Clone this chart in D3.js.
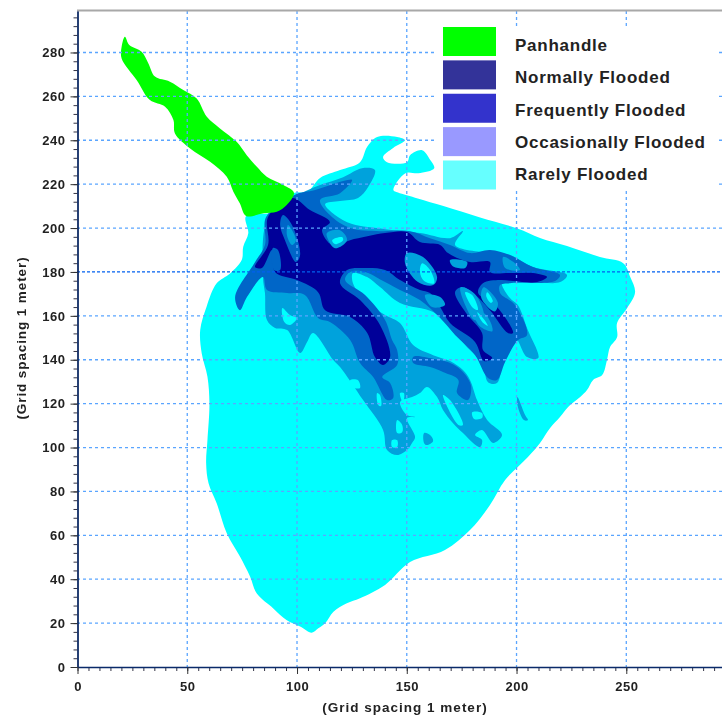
<!DOCTYPE html>
<html>
<head>
<meta charset="utf-8">
<script src="https://cdn.jsdelivr.net/npm/d3@7"></script>
<style>
  html, body { margin: 0; padding: 0; background: #fff; }
  svg { display: block; filter: blur(0.55px); }
  text { font-family: "Liberation Sans", Arial, sans-serif; font-weight: bold; fill: #222; }
</style>
</head>
<body>
<svg id="chart" width="722" height="716"></svg>
<script>
const legendLabels = ["Panhandle", "Normally Flooded", "Frequently Flooded", "Occasionally Flooded", "Rarely Flooded"];
const legendColours = ["#00ff00", "#333399", "#3333cc", "#9999ff", "#66ffff"];
const xTickLabels = [0, 50, 100, 150, 200, 250];
const yTickLabels = [0, 20, 40, 60, 80, 100, 120, 140, 160, 180, 200, 220, 240, 260, 280];
const gridX = [50, 100, 150, 200, 250];
const gridY = [20, 40, 60, 80, 100, 120, 140, 160, 200, 220, 240, 260, 280];

// outlines, in grid metres
const panhandle = [[21.6,287.2],[23.6,283.4],[29.2,280.3],[32.3,275],[35.3,269],[42.1,266.7],[48.2,262.9],[54.3,259],[58.9,250.7],[64.9,245.4],[72.5,239.3],[77.1,233.2],[81.7,227.9],[86.2,223.4],[93.8,219.6],[98.6,216.1],[95.3,210.5],[90.8,207.4],[84.7,206.7],[76.8,205.5],[74,211.2],[71,216.6],[68,223.4],[60.4,230.2],[51.3,236.3],[44.4,243.1],[43.7,249.2],[39.9,255.3],[33,258.3],[27,267.4],[20.1,277.3],[20.1,282.6]];

const rarely = [[76.8,205.5],[77.8,197.6],[75.5,191.5],[74.8,185.4],[69.5,179.3],[63.4,174.8],[58.8,164.2],[55.9,153.5],[56.6,142.9],[59.2,132.3],[60.1,120.1],[59.2,103.4],[58.6,92.8],[59.7,83.7],[63.4,74.6],[68,60.9],[74,50.3],[78.6,41.2],[81.6,33.6],[89.2,26.7],[95.2,21.4],[101.4,18.4],[106.7,15.6],[109.7,17.6],[112.8,19.9],[116.6,25.2],[122.7,29],[128.7,31.3],[140.1,37.4],[151.5,47.8],[167.4,53.3],[178.8,62.4],[187.9,73.8],[194.8,85.2],[205.2,95.7],[210.7,102.1],[215.3,108.9],[219.8,113.9],[223.5,118.5],[229,123],[232.1,126.2],[234.9,130.8],[239,133],[241.2,139.9],[242.6,145.8],[245.8,150.3],[245.8,156.7],[250.4,163.6],[254,170.8],[251.8,177.7],[248.6,184],[238,186.8],[223,191.8],[210.7,195.5],[200.4,199.8],[183.4,204.8],[166.7,210],[155,213.5],[146,216.2],[143.9,217.3],[149.4,225],[155.3,225],[162.5,227.3],[160.7,231],[157,235.5],[151.5,233.2],[150.1,230],[141,230],[139.2,232.4],[143.8,236.5],[149.2,240],[145.6,241.5],[136.5,241.5],[131.9,236.9],[128.7,230],[119.6,226.4],[110.5,222.8],[104.6,216.4],[98.6,216],[90.8,207.4]];

const occasionally = [[98.6,214.1],[110.5,219.6],[121,223.2],[129.6,227.3],[135.5,226.4],[132.4,218.7],[127.8,213.7],[119.6,212.3],[112.8,210.9],[117.3,205.9],[125.1,201.8],[140.1,199.5],[156,197.7],[169.7,195.4],[175.6,198.6],[172,192.3],[187.9,188.6],[197,187.7],[207.5,182.2],[223,178.6],[219.9,175.4],[207.5,175.4],[193.4,175.4],[197,168.1],[200.6,164.9],[204.8,154.4],[209.9,140.8],[204.8,141.2],[199.3,149.9],[193.9,138.5],[191.1,129.4],[187,129.8],[184.3,139.9],[178.8,144.4],[169.7,154.9],[162,161.7],[146.9,165.8],[137.8,173.1],[131.9,177.7],[125.5,179.5],[125.5,174.9],[131.9,165.8],[140.1,160.4],[146.9,156.7],[152.9,146.7],[162,142.1],[169.7,139.4],[175.6,135.3],[178.8,130.8],[182,121.6],[186.6,112.5],[193.4,105.7],[189.3,102.1],[184.3,108],[181.1,105.7],[184.3,103.4],[183.4,100.2],[180.2,102.1],[175.6,106.6],[171,111.2],[166.5,117.1],[163.8,123],[159.2,127.6],[156,124.8],[152.4,123],[147.9,121.6],[146.9,120.3],[150.1,114.8],[153.8,113.9],[150.1,113.4],[153.8,104.8],[152.4,102.1],[150.1,98.9],[145.6,96.6],[141,98.9],[139.2,108],[130.1,121.6],[119.6,136.7],[116.5,139.9],[107.3,152.2],[104.6,148.1],[101.4,143.1],[95.5,153.5],[90,154.5],[86.3,158.1],[85.4,170.4],[84.5,177.7],[86.8,205]];
const occasionallyStreak = [[200.4,123],[203.9,114.8],[205.2,112.5],[203.4,112.5],[200.4,119.4]];
const occasionallyLobe = [[157.9,106.6],[160.6,105.7],[162,103],[159.2,101.1],[157.9,102]];

const frequently = [[98.6,215],[108.2,217.3],[121,221.4],[125.1,221.9],[119.6,215.9],[110.5,212.8],[115,205.9],[124.2,200],[137.8,198.6],[151.5,198.6],[160.6,195.4],[169.7,192.3],[178.8,188.6],[187.9,190],[197,187.7],[207.5,182.2],[219.8,178.6],[217.6,175.9],[197,174.9],[192.5,174],[192.5,170.4],[199.3,164.9],[204.8,151.3],[200.7,149],[194.8,139],[191.1,130.8],[187,131.7],[181.1,142.1],[172,151.3],[165.2,159],[156,167.2],[146.9,171.8],[140.1,175.4],[131,180],[124.2,180],[121.9,176.3],[131,169.5],[140.1,158.1],[143.3,149],[145.6,144.4],[145.6,137.6],[138.8,132.1],[142.4,129.4],[143.8,122.6],[141,121.6],[134.7,132.1],[128.7,138.5],[124.2,149],[115,157.2],[109.6,159],[103.6,169.5],[95.5,170.4],[86.3,171.8],[84.5,177.7],[77.2,168.6],[74,162.6],[71.8,168.6],[80.9,184.5],[85.4,192.3],[85.9,205]];
const frequentlyLower = [[152.9,141.3],[162,140.4],[171,138],[175.6,134.4],[179.3,128],[177.9,121.6],[172.9,124.8],[173.5,130.8],[166.5,134.4],[160.6,136.7],[152.9,138.5]];

const normally = [[97.7,213.7],[105.9,208.2],[115,202.7],[111.4,199.1],[116,192.3],[124.2,194.5],[140.1,197.7],[150.1,198.2],[156,193.6],[165.2,192.3],[168.8,188.6],[178.8,184.5],[187.9,184.5],[187.9,180],[197,179.5],[207.5,179.5],[213.9,177.7],[209.4,175.4],[198.4,175.9],[192.5,176.3],[184.7,174.9],[182.5,170.4],[191.1,164],[198.4,152.2],[196.1,152.2],[187.9,162.6],[180.2,170.4],[175.2,173.1],[172,170.8],[177,161.3],[184.3,152.2],[184.7,144.4],[188.9,140.8],[185.2,139.4],[181.1,148.1],[169.7,156.7],[165.2,164],[160.6,170.4],[156,171.8],[146.9,176.3],[140.1,180.9],[131,181.8],[122.8,180.9],[119.6,174.9],[128.7,167.2],[137.8,155.8],[142.4,141.2],[139.2,137.6],[135.5,141.2],[132,152.2],[124.2,159.5],[112.8,162.6],[109.6,170.8],[100,176.3],[90,180],[88.6,190],[84,181.8],[80.9,182.2],[86.8,192.3],[86.8,205]];

// small patches sitting inside the darker bands
const freqStreakA = [[93.6,205.9],[97.7,201.4],[101.4,187.7],[99.5,184.5],[94.5,194.5],[92.3,201.4]];
const freqStreakB = [[89,190.9],[91.3,190],[92.3,180.9],[89.5,180.9]];
const occPatchA = [[95.9,201.4],[99.5,194.5],[97.7,192.3],[95.4,196.8]];
const occPatchB = [[113.6,197.7],[119.6,199],[122.8,194.5],[117.3,190.8],[114.1,194.9]];
const occPatchC = [[150.1,188.6],[157.4,186.8],[163.8,177.7],[162,174],[155.1,175.4],[149.2,184]];
const occPatchD = [[169.7,185.4],[177.5,184.5],[176.6,181.8],[170.8,182.7]];
const occPatchE = [[193.9,186.8],[199.3,184],[201.6,180.9],[194.8,181.8]];
const occPatchF = [[158.3,169.5],[165.2,168.6],[167.4,164.9],[161.5,164]];
const occPatchG = [[174.5,173],[181,170],[185,160],[181,158],[177,164]];
const occPatchH = [[185,173],[191.5,166],[190,162],[184,168]];
const occPatchI = [[180,164],[186.5,160],[189,153],[183.5,155],[181,159]];
const rareHoleA = [[116,194.5],[120.5,195.9],[121,194.5],[117.3,192.7]];
const rareHoleB = [[157,184],[160.6,180.9],[162.5,174.9],[157.9,175.9],[156,180]];
const rareHoleC = [[176.6,170.8],[179.8,169.5],[182.4,162.7],[180.2,163.6]];
const rareHoleD = [[186.6,170.8],[189.2,166.8],[188.3,165.9],[186.2,168.9]];
const rareHoleE = [[182.1,161.6],[184.7,159],[186.9,155.5],[184.4,157.2]];
const rareHoleF = [[93.3,163.6],[96.8,160.4],[99.9,159],[96.8,155.8],[94.2,157.2]];
const rareHoleG = [[166.5,123.9],[169.7,121.6],[175.6,110.3],[173.5,110.3]];
const rareHoleH = [[179.8,116.1],[184.3,115.7],[184.3,113.4],[180.7,113]];
const rareHoleI = [[124.2,130.7],[127.8,130.7],[128.7,127.1],[125.1,127.6]];
const rareHoleJ = [[145.6,112.5],[147.9,110.3],[147.9,107],[145.6,106.6]];
const rareHoleK = [[143.3,103.4],[145.6,103.4],[145.6,100.2],[143.3,100.2]];
const rareHoleL = [[136.5,124.8],[137.8,123.9],[138.3,118.9],[137,119.4]];
const rareHoleM = [[146.9,124.8],[148.7,124.8],[148.3,120.3]];

const colours = {
  pan: "#00ff00",
  rare: "#00ffff",
  occ: "#00a2dc",
  freq: "#0066c8",
  norm: "#000099"
};

// drawn back to front so the darker bands sit on the paler ones
const layers = [
  { shape: rarely, fill: colours.rare },
  { shape: occasionally, fill: colours.occ },
  { shape: occasionallyStreak, fill: colours.occ },
  { shape: occasionallyLobe, fill: colours.occ },
  { shape: frequently, fill: colours.freq },
  { shape: frequentlyLower, fill: colours.freq },
  { shape: normally, fill: colours.norm },
  { shape: freqStreakA, fill: colours.freq },
  { shape: freqStreakB, fill: colours.freq },
  { shape: occPatchA, fill: colours.occ },
  { shape: occPatchB, fill: colours.occ },
  { shape: occPatchC, fill: colours.occ },
  { shape: occPatchD, fill: colours.occ },
  { shape: occPatchE, fill: colours.occ },
  { shape: occPatchF, fill: colours.occ },
  { shape: occPatchG, fill: colours.occ },
  { shape: occPatchH, fill: colours.occ },
  { shape: occPatchI, fill: colours.occ },
  { shape: rareHoleA, fill: colours.rare },
  { shape: rareHoleB, fill: colours.rare },
  { shape: rareHoleC, fill: colours.rare },
  { shape: rareHoleD, fill: colours.rare },
  { shape: rareHoleE, fill: colours.rare },
  { shape: rareHoleF, fill: colours.rare },
  { shape: rareHoleG, fill: colours.rare },
  { shape: rareHoleH, fill: colours.rare },
  { shape: rareHoleI, fill: colours.rare },
  { shape: rareHoleJ, fill: colours.rare },
  { shape: rareHoleK, fill: colours.rare },
  { shape: rareHoleL, fill: colours.rare },
  { shape: rareHoleM, fill: colours.rare },
  { shape: panhandle, fill: colours.pan }
];

const svg = d3.select("#chart");
const x = d3.scaleLinear().domain([0, 293.6]).range([77.5, 722]);
const y = d3.scaleLinear().domain([0, 298.9]).range([667, 11]);
const outline = d3.line()
  .x(d => x(d[0]))
  .y(d => y(d[1]))
  .curve(d3.curveCatmullRomClosed.alpha(0.5));

svg.append("g")
  .selectAll("path")
  .data(layers)
  .enter()
  .append("path")
  .attr("d", d => outline(d.shape))
  .attr("fill", d => d.fill);

// grid over the map
const grid = svg.append("g").attr("fill", "none");
grid.selectAll("line.v")
  .data(gridX)
  .enter()
  .append("line")
  .attr("class", "v")
  .attr("x1", d => x(d)).attr("x2", d => x(d))
  .attr("y1", 11).attr("y2", 667)
  .attr("stroke", "#5aa5ff")
  .attr("stroke-width", 1.3)
  .attr("stroke-dasharray", "3 3");
grid.selectAll("line.h")
  .data(gridY)
  .enter()
  .append("line")
  .attr("class", "h")
  .attr("x1", 77).attr("x2", 722)
  .attr("y1", d => y(d)).attr("y2", d => y(d))
  .attr("stroke", "#5aa5ff")
  .attr("stroke-width", 1.3)
  .attr("stroke-dasharray", "3 3");
grid.append("line")
  .attr("x1", 77).attr("x2", 722)
  .attr("y1", y(180)).attr("y2", y(180))
  .attr("stroke", "#0060f0")
  .attr("stroke-width", 1.3)
  .attr("stroke-dasharray", "3 2");

// frame and axes
svg.append("line")
  .attr("x1", 77).attr("x2", 722)
  .attr("y1", 10.5).attr("y2", 10.5)
  .attr("stroke", "#a8a8a8")
  .attr("stroke-width", 2);

const yMinor = d3.range(0, 297, 4);
const xMinor = d3.range(0, 294, 5);

svg.append("g")
  .attr("transform", `translate(${x(0)},0)`)
  .call(d3.axisLeft(y).tickValues(yMinor).tickSize(4).tickSizeOuter(0).tickFormat(""))
  .call(g => g.selectAll("path,line").attr("stroke", "#334"));
svg.append("g")
  .attr("transform", `translate(0,${y(0)})`)
  .call(d3.axisBottom(x).tickValues(xMinor).tickSize(4).tickSizeOuter(0).tickFormat(""))
  .call(g => g.selectAll("path,line").attr("stroke", "#334"));

svg.append("g")
  .attr("transform", `translate(${x(0)},0)`)
  .call(d3.axisLeft(y).tickValues(yTickLabels).tickSize(7).tickSizeOuter(0).tickPadding(5))
  .call(g => g.select(".domain").attr("stroke", "#0a2a6a").attr("stroke-width", 1.6))
  .call(g => g.selectAll("line").attr("stroke", "#333"))
  .call(g => g.selectAll("text").attr("font-size", 13).attr("letter-spacing", 0.5).attr("font-family", null));
svg.append("g")
  .attr("transform", `translate(0,${y(0)})`)
  .call(d3.axisBottom(x).tickValues(xTickLabels).tickSize(7).tickSizeOuter(0).tickPadding(8))
  .call(g => g.select(".domain").attr("stroke", "#0a2a6a").attr("stroke-width", 1.6))
  .call(g => g.selectAll("text").attr("font-size", 13).attr("letter-spacing", 0.5).attr("font-family", null))
  .call(g => g.selectAll("line").attr("stroke", "#333"));

svg.append("text")
  .attr("x", 405).attr("y", 712)
  .attr("text-anchor", "middle")
  .attr("font-size", 13.5)
  .attr("letter-spacing", 1)
  .text("(Grid spacing 1 meter)");
svg.append("text")
  .attr("transform", "translate(26,338) rotate(-90)")
  .attr("text-anchor", "middle")
  .attr("font-size", 13.5)
  .attr("letter-spacing", 0.9)
  .text("(Grid spacing 1 meter)");

// legend blanks the grid behind it
const legend = svg.append("g");
legend.append("rect")
  .attr("x", 437).attr("y", 27)
  .attr("width", 280).attr("height", 163)
  .attr("fill", "#fff");
const swatchTop = d3.scaleLinear().domain([0, 4]).range([27, 160.5]);
const labelBase = d3.scaleLinear().domain([0, 4]).range([51, 180]);
legend.selectAll("rect.swatch")
  .data(legendLabels)
  .enter()
  .append("rect")
  .attr("class", "swatch")
  .attr("x", 443)
  .attr("y", (d, i) => swatchTop(i))
  .attr("width", 53).attr("height", 29)
  .attr("fill", (d, i) => legendColours[i]);
legend.selectAll("text")
  .data(legendLabels)
  .enter()
  .append("text")
  .attr("x", 515)
  .attr("y", (d, i) => labelBase(i))
  .attr("font-size", 17)
  .attr("letter-spacing", 0.75)
  .text(d => d);
</script>
</body>
</html>
